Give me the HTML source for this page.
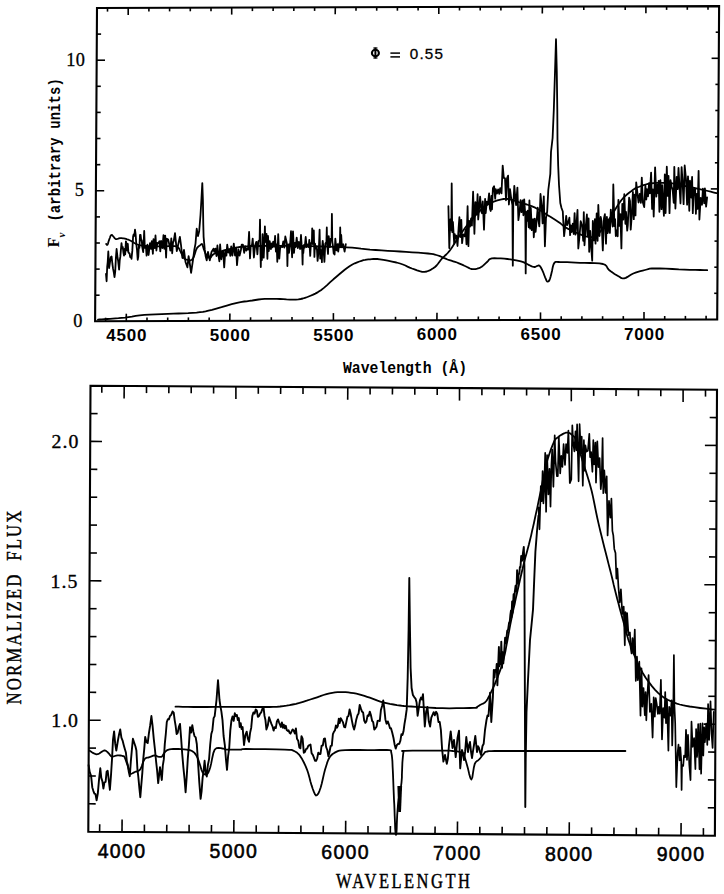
<!DOCTYPE html>
<html><head><meta charset="utf-8"><style>
html,body{margin:0;padding:0;background:#fff;overflow:hidden;width:724px;height:894px;}
svg{display:block;}
</style></head><body>
<svg width="724" height="894" viewBox="0 0 724 894">
<rect width="724" height="894" fill="#fff"/>
<path d="M97.0 8.0 L719.1 6.1 L717.2 319.4 L95.1 321.3 Z" fill="none" stroke="#000" stroke-width="2.1" stroke-linejoin="miter"/>
<path d="M90.5 385.7 L717.0 389.7 L714.9 835.7 L88.3 831.7 Z" fill="none" stroke="#000" stroke-width="2.1" stroke-linejoin="miter"/>
<line x1="105.6" y1="321.3" x2="105.6" y2="317.7" stroke="#000" stroke-width="1.6"/>
<line x1="107.5" y1="8.0" x2="107.5" y2="11.6" stroke="#000" stroke-width="1.6"/>
<line x1="126.3" y1="321.2" x2="126.3" y2="313.7" stroke="#000" stroke-width="1.6"/>
<line x1="128.2" y1="7.9" x2="128.2" y2="14.9" stroke="#000" stroke-width="1.6"/>
<line x1="147.0" y1="321.1" x2="147.0" y2="317.5" stroke="#000" stroke-width="1.6"/>
<line x1="148.9" y1="7.8" x2="148.9" y2="11.4" stroke="#000" stroke-width="1.6"/>
<line x1="167.7" y1="321.1" x2="167.7" y2="317.5" stroke="#000" stroke-width="1.6"/>
<line x1="169.6" y1="7.8" x2="169.6" y2="11.4" stroke="#000" stroke-width="1.6"/>
<line x1="188.4" y1="321.0" x2="188.4" y2="317.4" stroke="#000" stroke-width="1.6"/>
<line x1="190.3" y1="7.7" x2="190.3" y2="11.3" stroke="#000" stroke-width="1.6"/>
<line x1="209.1" y1="321.0" x2="209.2" y2="317.4" stroke="#000" stroke-width="1.6"/>
<line x1="211.0" y1="7.7" x2="211.0" y2="11.3" stroke="#000" stroke-width="1.6"/>
<line x1="229.8" y1="320.9" x2="229.9" y2="313.4" stroke="#000" stroke-width="1.6"/>
<line x1="231.7" y1="7.6" x2="231.7" y2="14.6" stroke="#000" stroke-width="1.6"/>
<line x1="250.5" y1="320.8" x2="250.6" y2="317.2" stroke="#000" stroke-width="1.6"/>
<line x1="252.4" y1="7.5" x2="252.4" y2="11.1" stroke="#000" stroke-width="1.6"/>
<line x1="271.3" y1="320.8" x2="271.3" y2="317.2" stroke="#000" stroke-width="1.6"/>
<line x1="273.2" y1="7.5" x2="273.1" y2="11.1" stroke="#000" stroke-width="1.6"/>
<line x1="292.0" y1="320.7" x2="292.0" y2="317.1" stroke="#000" stroke-width="1.6"/>
<line x1="293.9" y1="7.4" x2="293.8" y2="11.0" stroke="#000" stroke-width="1.6"/>
<line x1="312.7" y1="320.6" x2="312.7" y2="317.0" stroke="#000" stroke-width="1.6"/>
<line x1="314.6" y1="7.3" x2="314.6" y2="10.9" stroke="#000" stroke-width="1.6"/>
<line x1="333.4" y1="320.6" x2="333.4" y2="313.1" stroke="#000" stroke-width="1.6"/>
<line x1="335.3" y1="7.3" x2="335.2" y2="14.3" stroke="#000" stroke-width="1.6"/>
<line x1="354.1" y1="320.5" x2="354.1" y2="316.9" stroke="#000" stroke-width="1.6"/>
<line x1="356.0" y1="7.2" x2="356.0" y2="10.8" stroke="#000" stroke-width="1.6"/>
<line x1="374.8" y1="320.4" x2="374.8" y2="316.8" stroke="#000" stroke-width="1.6"/>
<line x1="376.7" y1="7.1" x2="376.7" y2="10.7" stroke="#000" stroke-width="1.6"/>
<line x1="395.5" y1="320.4" x2="395.5" y2="316.8" stroke="#000" stroke-width="1.6"/>
<line x1="397.4" y1="7.1" x2="397.4" y2="10.7" stroke="#000" stroke-width="1.6"/>
<line x1="416.2" y1="320.3" x2="416.2" y2="316.7" stroke="#000" stroke-width="1.6"/>
<line x1="418.1" y1="7.0" x2="418.1" y2="10.6" stroke="#000" stroke-width="1.6"/>
<line x1="436.9" y1="320.3" x2="437.0" y2="312.8" stroke="#000" stroke-width="1.6"/>
<line x1="438.8" y1="7.0" x2="438.8" y2="14.0" stroke="#000" stroke-width="1.6"/>
<line x1="457.6" y1="320.2" x2="457.6" y2="316.6" stroke="#000" stroke-width="1.6"/>
<line x1="459.5" y1="6.9" x2="459.5" y2="10.5" stroke="#000" stroke-width="1.6"/>
<line x1="478.3" y1="320.1" x2="478.4" y2="316.5" stroke="#000" stroke-width="1.6"/>
<line x1="480.2" y1="6.8" x2="480.2" y2="10.4" stroke="#000" stroke-width="1.6"/>
<line x1="499.0" y1="320.1" x2="499.1" y2="316.5" stroke="#000" stroke-width="1.6"/>
<line x1="500.9" y1="6.8" x2="500.9" y2="10.4" stroke="#000" stroke-width="1.6"/>
<line x1="519.8" y1="320.0" x2="519.8" y2="316.4" stroke="#000" stroke-width="1.6"/>
<line x1="521.7" y1="6.7" x2="521.6" y2="10.3" stroke="#000" stroke-width="1.6"/>
<line x1="540.5" y1="319.9" x2="540.5" y2="312.4" stroke="#000" stroke-width="1.6"/>
<line x1="542.4" y1="6.6" x2="542.3" y2="13.6" stroke="#000" stroke-width="1.6"/>
<line x1="561.2" y1="319.9" x2="561.2" y2="316.3" stroke="#000" stroke-width="1.6"/>
<line x1="563.1" y1="6.6" x2="563.0" y2="10.2" stroke="#000" stroke-width="1.6"/>
<line x1="581.9" y1="319.8" x2="581.9" y2="316.2" stroke="#000" stroke-width="1.6"/>
<line x1="583.8" y1="6.5" x2="583.8" y2="10.1" stroke="#000" stroke-width="1.6"/>
<line x1="602.6" y1="319.8" x2="602.6" y2="316.2" stroke="#000" stroke-width="1.6"/>
<line x1="604.5" y1="6.5" x2="604.5" y2="10.1" stroke="#000" stroke-width="1.6"/>
<line x1="623.3" y1="319.7" x2="623.3" y2="316.1" stroke="#000" stroke-width="1.6"/>
<line x1="625.2" y1="6.4" x2="625.2" y2="10.0" stroke="#000" stroke-width="1.6"/>
<line x1="644.0" y1="319.6" x2="644.0" y2="312.1" stroke="#000" stroke-width="1.6"/>
<line x1="645.9" y1="6.3" x2="645.9" y2="13.3" stroke="#000" stroke-width="1.6"/>
<line x1="664.7" y1="319.6" x2="664.7" y2="316.0" stroke="#000" stroke-width="1.6"/>
<line x1="666.6" y1="6.3" x2="666.6" y2="9.9" stroke="#000" stroke-width="1.6"/>
<line x1="685.4" y1="319.5" x2="685.4" y2="315.9" stroke="#000" stroke-width="1.6"/>
<line x1="687.3" y1="6.2" x2="687.3" y2="9.8" stroke="#000" stroke-width="1.6"/>
<line x1="706.1" y1="319.4" x2="706.1" y2="315.8" stroke="#000" stroke-width="1.6"/>
<line x1="708.0" y1="6.1" x2="708.0" y2="9.7" stroke="#000" stroke-width="1.6"/>
<line x1="95.3" y1="295.2" x2="99.6" y2="295.2" stroke="#000" stroke-width="1.6"/>
<line x1="717.4" y1="293.3" x2="714.2" y2="293.3" stroke="#000" stroke-width="1.6"/>
<line x1="95.4" y1="269.1" x2="99.7" y2="269.1" stroke="#000" stroke-width="1.6"/>
<line x1="717.5" y1="267.2" x2="714.3" y2="267.2" stroke="#000" stroke-width="1.6"/>
<line x1="95.6" y1="243.0" x2="99.9" y2="243.0" stroke="#000" stroke-width="1.6"/>
<line x1="717.7" y1="241.1" x2="714.5" y2="241.1" stroke="#000" stroke-width="1.6"/>
<line x1="95.7" y1="216.9" x2="100.0" y2="216.9" stroke="#000" stroke-width="1.6"/>
<line x1="717.8" y1="215.0" x2="714.6" y2="215.0" stroke="#000" stroke-width="1.6"/>
<line x1="95.9" y1="190.8" x2="104.2" y2="190.7" stroke="#000" stroke-width="1.6"/>
<line x1="718.0" y1="188.9" x2="710.8" y2="188.9" stroke="#000" stroke-width="1.6"/>
<line x1="96.0" y1="164.7" x2="100.3" y2="164.6" stroke="#000" stroke-width="1.6"/>
<line x1="718.1" y1="162.8" x2="714.9" y2="162.8" stroke="#000" stroke-width="1.6"/>
<line x1="96.2" y1="138.5" x2="100.5" y2="138.5" stroke="#000" stroke-width="1.6"/>
<line x1="718.3" y1="136.6" x2="715.1" y2="136.7" stroke="#000" stroke-width="1.6"/>
<line x1="96.4" y1="112.4" x2="100.7" y2="112.4" stroke="#000" stroke-width="1.6"/>
<line x1="718.5" y1="110.5" x2="715.3" y2="110.5" stroke="#000" stroke-width="1.6"/>
<line x1="96.5" y1="86.3" x2="100.8" y2="86.3" stroke="#000" stroke-width="1.6"/>
<line x1="718.6" y1="84.4" x2="715.4" y2="84.4" stroke="#000" stroke-width="1.6"/>
<line x1="96.7" y1="60.2" x2="105.0" y2="60.2" stroke="#000" stroke-width="1.6"/>
<line x1="718.8" y1="58.3" x2="711.6" y2="58.3" stroke="#000" stroke-width="1.6"/>
<line x1="96.8" y1="34.1" x2="101.1" y2="34.1" stroke="#000" stroke-width="1.6"/>
<line x1="718.9" y1="32.2" x2="715.7" y2="32.2" stroke="#000" stroke-width="1.6"/>
<line x1="99.6" y1="831.8" x2="99.7" y2="824.3" stroke="#000" stroke-width="1.6"/>
<line x1="101.8" y1="385.8" x2="101.8" y2="392.8" stroke="#000" stroke-width="1.6"/>
<line x1="122.0" y1="831.9" x2="122.1" y2="819.4" stroke="#000" stroke-width="1.6"/>
<line x1="124.2" y1="385.9" x2="124.1" y2="398.4" stroke="#000" stroke-width="1.6"/>
<line x1="144.4" y1="832.1" x2="144.4" y2="824.6" stroke="#000" stroke-width="1.6"/>
<line x1="146.5" y1="386.1" x2="146.5" y2="393.1" stroke="#000" stroke-width="1.6"/>
<line x1="166.7" y1="832.2" x2="166.8" y2="824.7" stroke="#000" stroke-width="1.6"/>
<line x1="168.9" y1="386.2" x2="168.8" y2="393.2" stroke="#000" stroke-width="1.6"/>
<line x1="189.1" y1="832.3" x2="189.1" y2="824.8" stroke="#000" stroke-width="1.6"/>
<line x1="191.2" y1="386.3" x2="191.2" y2="393.3" stroke="#000" stroke-width="1.6"/>
<line x1="211.4" y1="832.5" x2="211.5" y2="825.0" stroke="#000" stroke-width="1.6"/>
<line x1="213.6" y1="386.5" x2="213.6" y2="393.5" stroke="#000" stroke-width="1.6"/>
<line x1="233.8" y1="832.6" x2="233.9" y2="820.1" stroke="#000" stroke-width="1.6"/>
<line x1="235.9" y1="386.6" x2="235.9" y2="399.1" stroke="#000" stroke-width="1.6"/>
<line x1="256.2" y1="832.8" x2="256.2" y2="825.3" stroke="#000" stroke-width="1.6"/>
<line x1="258.3" y1="386.8" x2="258.3" y2="393.8" stroke="#000" stroke-width="1.6"/>
<line x1="278.5" y1="832.9" x2="278.6" y2="825.4" stroke="#000" stroke-width="1.6"/>
<line x1="280.7" y1="386.9" x2="280.6" y2="393.9" stroke="#000" stroke-width="1.6"/>
<line x1="300.9" y1="833.1" x2="300.9" y2="825.6" stroke="#000" stroke-width="1.6"/>
<line x1="303.0" y1="387.1" x2="303.0" y2="394.1" stroke="#000" stroke-width="1.6"/>
<line x1="323.2" y1="833.2" x2="323.3" y2="825.7" stroke="#000" stroke-width="1.6"/>
<line x1="325.4" y1="387.2" x2="325.4" y2="394.2" stroke="#000" stroke-width="1.6"/>
<line x1="345.6" y1="833.3" x2="345.7" y2="820.8" stroke="#000" stroke-width="1.6"/>
<line x1="347.8" y1="387.3" x2="347.7" y2="399.8" stroke="#000" stroke-width="1.6"/>
<line x1="368.0" y1="833.5" x2="368.0" y2="826.0" stroke="#000" stroke-width="1.6"/>
<line x1="370.1" y1="387.5" x2="370.1" y2="394.5" stroke="#000" stroke-width="1.6"/>
<line x1="390.3" y1="833.6" x2="390.4" y2="826.1" stroke="#000" stroke-width="1.6"/>
<line x1="392.5" y1="387.6" x2="392.4" y2="394.6" stroke="#000" stroke-width="1.6"/>
<line x1="412.7" y1="833.8" x2="412.7" y2="826.3" stroke="#000" stroke-width="1.6"/>
<line x1="414.8" y1="387.8" x2="414.8" y2="394.8" stroke="#000" stroke-width="1.6"/>
<line x1="435.0" y1="833.9" x2="435.1" y2="826.4" stroke="#000" stroke-width="1.6"/>
<line x1="437.2" y1="387.9" x2="437.2" y2="394.9" stroke="#000" stroke-width="1.6"/>
<line x1="457.4" y1="834.1" x2="457.5" y2="821.6" stroke="#000" stroke-width="1.6"/>
<line x1="459.5" y1="388.1" x2="459.5" y2="400.6" stroke="#000" stroke-width="1.6"/>
<line x1="479.8" y1="834.2" x2="479.8" y2="826.7" stroke="#000" stroke-width="1.6"/>
<line x1="481.9" y1="388.2" x2="481.9" y2="395.2" stroke="#000" stroke-width="1.6"/>
<line x1="502.1" y1="834.3" x2="502.2" y2="826.8" stroke="#000" stroke-width="1.6"/>
<line x1="504.3" y1="388.3" x2="504.2" y2="395.3" stroke="#000" stroke-width="1.6"/>
<line x1="524.5" y1="834.5" x2="524.5" y2="827.0" stroke="#000" stroke-width="1.6"/>
<line x1="526.6" y1="388.5" x2="526.6" y2="395.5" stroke="#000" stroke-width="1.6"/>
<line x1="546.8" y1="834.6" x2="546.9" y2="827.1" stroke="#000" stroke-width="1.6"/>
<line x1="549.0" y1="388.6" x2="549.0" y2="395.6" stroke="#000" stroke-width="1.6"/>
<line x1="569.2" y1="834.8" x2="569.3" y2="822.3" stroke="#000" stroke-width="1.6"/>
<line x1="571.3" y1="388.8" x2="571.3" y2="401.3" stroke="#000" stroke-width="1.6"/>
<line x1="591.6" y1="834.9" x2="591.6" y2="827.4" stroke="#000" stroke-width="1.6"/>
<line x1="593.7" y1="388.9" x2="593.7" y2="395.9" stroke="#000" stroke-width="1.6"/>
<line x1="613.9" y1="835.1" x2="614.0" y2="827.6" stroke="#000" stroke-width="1.6"/>
<line x1="616.1" y1="389.1" x2="616.0" y2="396.1" stroke="#000" stroke-width="1.6"/>
<line x1="636.3" y1="835.2" x2="636.3" y2="827.7" stroke="#000" stroke-width="1.6"/>
<line x1="638.4" y1="389.2" x2="638.4" y2="396.2" stroke="#000" stroke-width="1.6"/>
<line x1="658.6" y1="835.3" x2="658.7" y2="827.8" stroke="#000" stroke-width="1.6"/>
<line x1="660.8" y1="389.3" x2="660.8" y2="396.3" stroke="#000" stroke-width="1.6"/>
<line x1="681.0" y1="835.5" x2="681.1" y2="823.0" stroke="#000" stroke-width="1.6"/>
<line x1="683.1" y1="389.5" x2="683.1" y2="402.0" stroke="#000" stroke-width="1.6"/>
<line x1="703.4" y1="835.6" x2="703.4" y2="828.1" stroke="#000" stroke-width="1.6"/>
<line x1="705.5" y1="389.6" x2="705.5" y2="396.6" stroke="#000" stroke-width="1.6"/>
<line x1="88.5" y1="803.8" x2="95.7" y2="803.9" stroke="#000" stroke-width="1.6"/>
<line x1="715.0" y1="807.8" x2="707.8" y2="807.8" stroke="#000" stroke-width="1.6"/>
<line x1="88.6" y1="776.0" x2="95.8" y2="776.0" stroke="#000" stroke-width="1.6"/>
<line x1="715.1" y1="780.0" x2="707.9" y2="779.9" stroke="#000" stroke-width="1.6"/>
<line x1="88.8" y1="748.1" x2="96.0" y2="748.1" stroke="#000" stroke-width="1.6"/>
<line x1="715.3" y1="752.1" x2="708.1" y2="752.0" stroke="#000" stroke-width="1.6"/>
<line x1="88.9" y1="720.2" x2="100.7" y2="720.3" stroke="#000" stroke-width="1.6"/>
<line x1="715.4" y1="724.2" x2="703.6" y2="724.1" stroke="#000" stroke-width="1.6"/>
<line x1="89.0" y1="692.3" x2="96.2" y2="692.4" stroke="#000" stroke-width="1.6"/>
<line x1="715.5" y1="696.3" x2="708.3" y2="696.3" stroke="#000" stroke-width="1.6"/>
<line x1="89.2" y1="664.5" x2="96.4" y2="664.5" stroke="#000" stroke-width="1.6"/>
<line x1="715.7" y1="668.5" x2="708.5" y2="668.4" stroke="#000" stroke-width="1.6"/>
<line x1="89.3" y1="636.6" x2="96.5" y2="636.6" stroke="#000" stroke-width="1.6"/>
<line x1="715.8" y1="640.6" x2="708.6" y2="640.5" stroke="#000" stroke-width="1.6"/>
<line x1="89.4" y1="608.7" x2="96.6" y2="608.7" stroke="#000" stroke-width="1.6"/>
<line x1="715.9" y1="612.7" x2="708.7" y2="612.7" stroke="#000" stroke-width="1.6"/>
<line x1="89.6" y1="580.8" x2="101.4" y2="580.9" stroke="#000" stroke-width="1.6"/>
<line x1="716.1" y1="584.8" x2="704.3" y2="584.7" stroke="#000" stroke-width="1.6"/>
<line x1="89.7" y1="553.0" x2="96.9" y2="553.0" stroke="#000" stroke-width="1.6"/>
<line x1="716.2" y1="557.0" x2="709.0" y2="556.9" stroke="#000" stroke-width="1.6"/>
<line x1="89.8" y1="525.1" x2="97.0" y2="525.1" stroke="#000" stroke-width="1.6"/>
<line x1="716.3" y1="529.1" x2="709.1" y2="529.0" stroke="#000" stroke-width="1.6"/>
<line x1="90.0" y1="497.2" x2="97.2" y2="497.2" stroke="#000" stroke-width="1.6"/>
<line x1="716.5" y1="501.2" x2="709.3" y2="501.2" stroke="#000" stroke-width="1.6"/>
<line x1="90.1" y1="469.3" x2="97.3" y2="469.4" stroke="#000" stroke-width="1.6"/>
<line x1="716.6" y1="473.3" x2="709.4" y2="473.3" stroke="#000" stroke-width="1.6"/>
<line x1="90.2" y1="441.4" x2="102.0" y2="441.5" stroke="#000" stroke-width="1.6"/>
<line x1="716.7" y1="445.4" x2="704.9" y2="445.4" stroke="#000" stroke-width="1.6"/>
<line x1="90.4" y1="413.6" x2="97.6" y2="413.6" stroke="#000" stroke-width="1.6"/>
<line x1="716.9" y1="417.6" x2="709.7" y2="417.5" stroke="#000" stroke-width="1.6"/>
<path d="M106.2 244.0 L106.4 244.2 L106.6 244.5 L106.9 244.8 L107.2 244.9 L107.5 244.7 L107.8 244.1 L108.1 243.2 L108.4 242.1 L108.7 241.0 L109.1 239.9 L109.5 238.8 L110.0 237.5 L110.4 236.2 L111.0 235.3 L111.6 234.9 L112.3 235.2 L113.1 236.2 L114.0 237.3 L114.8 238.4 L115.7 239.1 L116.5 239.2 L117.3 239.0 L118.2 238.7 L119.0 238.4 L119.9 238.2 L120.8 238.2 L121.8 238.2 L122.8 238.3 L123.8 238.4 L124.9 238.6 L126.0 238.9 L127.2 239.3 L128.5 239.7 L129.6 240.2 L130.7 240.7 L131.6 241.2 L132.4 241.7 L133.2 242.2 L133.9 242.7 L134.8 243.2 L135.7 243.6 L136.6 244.1 L137.5 244.5 L138.6 244.9 L140.0 245.2 L141.6 245.5 L143.4 245.7 L145.4 245.9 L147.6 246.1 L150.0 246.2 L152.8 246.3 L156.1 246.3 L159.5 246.3 L162.6 246.3 L165.0 246.3 L166.6 246.3 L167.6 246.2 L168.3 246.1 L169.0 246.1 L170.0 246.1 L171.4 246.1 L173.0 246.1 L174.7 246.1 L176.2 246.3 L177.5 246.8 L178.5 247.7 L179.3 248.9 L179.9 250.3 L180.6 251.7 L181.2 253.0 L181.9 254.2 L182.5 255.5 L183.1 256.7 L183.7 257.8 L184.3 258.6 L184.9 259.1 L185.5 259.4 L186.2 259.6 L186.8 259.7 L187.4 259.8 L188.0 260.0 L188.6 260.3 L189.3 260.5 L189.9 260.5 L190.5 260.4 L191.1 260.1 L191.7 259.7 L192.4 259.1 L193.0 258.3 L193.6 257.3 L194.2 255.8 L194.8 254.0 L195.4 252.0 L196.0 250.1 L196.7 248.6 L197.4 247.5 L198.3 246.6 L199.1 245.9 L199.9 245.4 L200.5 244.9 L201.0 244.5 L201.4 244.2 L201.7 244.0 L202.0 244.1 L202.3 244.3 L202.6 244.8 L202.8 245.6 L203.0 246.6 L203.3 247.6 L203.6 248.6 L204.0 249.7 L204.4 250.8 L204.9 252.0 L205.4 253.2 L206.0 254.2 L206.7 255.2 L207.4 256.2 L208.2 257.0 L209.0 257.7 L209.8 257.9 L210.5 257.6 L211.1 256.9 L211.7 256.0 L212.5 255.0 L213.5 254.2 L214.7 253.5 L216.1 252.9 L217.7 252.3 L219.6 251.7 L222.0 251.0 L225.0 250.2 L228.4 249.3 L232.2 248.4 L236.1 247.6 L240.0 247.0 L243.6 246.6 L246.9 246.3 L250.5 246.2 L254.7 246.1 L260.0 246.0 L266.6 245.9 L274.3 245.9 L282.6 245.9 L291.3 245.9 L300.0 246.0 L309.2 246.2 L319.0 246.4 L328.9 246.6 L338.1 247.0 L346.0 247.3 L352.1 247.7 L356.9 248.2 L361.0 248.7 L365.2 249.1 L370.0 249.6 L375.6 250.0 L381.7 250.4 L387.9 250.8 L394.0 251.1 L400.0 251.5 L406.0 251.9 L412.2 252.3 L418.2 252.7 L423.6 253.1 L428.0 253.5 L431.2 253.9 L433.3 254.2 L434.9 254.6 L436.3 255.0 L438.0 255.5 L439.9 256.2 L441.8 257.0 L443.7 257.9 L445.6 258.7 L447.5 259.5 L449.4 260.1 L451.3 260.7 L453.2 261.3 L455.1 261.9 L457.0 262.5 L458.9 263.3 L460.8 264.1 L462.6 264.9 L464.4 265.8 L466.0 266.5 L467.5 267.2 L468.8 267.9 L470.0 268.5 L471.2 269.0 L472.6 269.2 L474.1 269.2 L475.6 269.1 L477.2 268.7 L478.8 268.2 L480.3 267.6 L481.7 266.7 L483.1 265.6 L484.5 264.3 L485.8 263.1 L487.0 262.0 L487.9 261.1 L488.6 260.2 L489.3 259.4 L490.3 258.8 L491.9 258.4 L494.4 258.2 L497.4 258.3 L500.8 258.4 L504.3 258.7 L507.4 259.0 L510.4 259.4 L513.3 259.8 L516.2 260.4 L518.7 260.9 L520.9 261.4 L522.6 261.9 L523.9 262.4 L524.9 262.9 L525.8 263.4 L526.7 263.8 L527.5 264.2 L528.1 264.5 L528.7 264.9 L529.3 265.2 L530.0 265.5 L530.8 265.9 L531.8 266.3 L532.7 266.6 L533.7 266.9 L534.6 267.0 L535.5 266.8 L536.5 266.3 L537.4 265.8 L538.3 265.5 L539.1 265.5 L539.8 266.0 L540.4 266.7 L541.0 267.7 L541.6 268.8 L542.2 270.0 L542.8 271.4 L543.5 273.0 L544.1 274.7 L544.7 276.3 L545.2 277.6 L545.7 278.7 L546.1 279.7 L546.4 280.5 L546.8 281.1 L547.2 281.5 L547.6 281.6 L548.1 281.6 L548.6 281.3 L549.1 280.7 L549.5 280.0 L549.9 279.0 L550.3 277.7 L550.7 276.3 L551.1 274.7 L551.5 273.0 L552.0 271.0 L552.4 268.8 L552.9 266.5 L553.5 264.5 L554.3 263.0 L555.1 262.2 L555.9 261.9 L556.8 261.9 L558.3 262.0 L560.4 262.1 L563.4 262.1 L567.1 262.2 L571.3 262.4 L575.6 262.6 L580.0 262.8 L584.7 262.9 L589.8 263.0 L594.9 263.2 L599.4 263.4 L603.0 264.0 L605.2 264.9 L606.5 266.1 L607.2 267.4 L607.9 268.7 L609.0 270.0 L610.7 271.3 L612.5 272.6 L614.5 273.9 L616.3 275.0 L618.0 276.0 L619.4 276.8 L620.5 277.6 L621.6 278.1 L622.8 278.4 L624.2 278.4 L625.8 277.9 L627.5 276.9 L629.3 275.7 L631.3 274.5 L633.3 273.5 L635.5 272.7 L637.9 271.9 L640.3 271.2 L642.7 270.6 L645.0 270.0 L646.8 269.5 L648.2 269.1 L649.7 268.7 L651.9 268.5 L655.1 268.4 L659.9 268.5 L665.8 268.7 L672.4 269.0 L678.8 269.4 L684.6 269.6 L689.9 269.8 L695.2 269.9 L700.1 270.0 L704.2 270.1 L707.2 270.2" fill="none" stroke="#000" stroke-width="1.80" stroke-linejoin="round" stroke-linecap="round"/>
<path d="M98.0 319.6 L99.6 319.5 L101.8 319.4 L104.4 319.2 L107.2 319.0 L110.0 318.8 L112.7 318.6 L115.6 318.4 L118.5 318.2 L121.7 317.9 L125.0 317.6 L128.4 317.1 L131.9 316.6 L135.7 315.9 L139.7 315.4 L144.3 314.9 L149.6 314.6 L155.5 314.3 L161.7 314.1 L167.8 313.9 L173.4 313.7 L178.5 313.5 L183.5 313.3 L188.2 313.2 L192.6 312.9 L196.6 312.6 L200.0 312.2 L202.9 311.8 L205.6 311.3 L208.5 310.6 L212.0 309.8 L216.4 308.6 L221.5 307.2 L226.8 305.6 L231.7 304.2 L236.0 303.1 L239.3 302.4 L242.0 301.9 L244.3 301.5 L246.7 301.3 L249.3 300.9 L252.3 300.5 L255.4 300.0 L258.5 299.5 L261.7 299.2 L264.8 298.9 L267.8 298.8 L270.9 298.8 L273.9 298.8 L276.9 298.9 L280.0 299.0 L283.2 299.1 L286.5 299.4 L289.8 299.6 L292.9 299.7 L295.8 299.6 L298.4 299.4 L300.7 299.0 L302.8 298.5 L305.0 297.8 L307.4 297.0 L309.9 296.0 L312.6 294.9 L315.3 293.6 L318.0 292.1 L320.9 290.2 L323.9 287.9 L327.1 285.1 L330.2 282.2 L333.4 279.3 L336.4 276.7 L339.3 274.3 L342.0 272.0 L344.7 269.7 L347.4 267.7 L349.9 266.0 L352.4 264.5 L354.8 263.3 L357.2 262.3 L359.4 261.5 L361.5 260.8 L363.4 260.2 L365.1 259.9 L366.6 259.6 L368.3 259.4 L370.0 259.3 L371.7 259.1 L373.4 259.0 L375.2 258.9 L377.3 259.0 L380.0 259.3 L383.5 259.9 L387.7 260.6 L392.1 261.6 L396.4 262.5 L400.0 263.5 L402.9 264.5 L405.4 265.5 L407.5 266.6 L409.7 267.6 L412.0 268.5 L414.5 269.4 L417.1 270.4 L419.6 271.2 L422.1 271.8 L424.5 271.9 L426.8 271.5 L429.0 270.7 L431.1 269.6 L433.2 268.3 L435.0 267.0 L436.6 265.5 L438.0 263.8 L439.3 262.0 L440.6 260.2 L442.0 258.5 L443.4 257.1 L444.8 255.8 L446.3 254.5 L447.7 253.0 L449.3 251.2 L450.9 249.0 L452.6 246.4 L454.3 243.7 L456.1 240.8 L458.0 238.0 L460.0 235.1 L462.0 232.2 L464.1 229.2 L466.3 226.2 L468.7 223.2 L471.3 220.2 L474.0 217.0 L476.9 213.9 L479.6 211.1 L482.2 208.7 L484.5 206.8 L486.7 205.3 L488.8 204.0 L490.9 203.0 L493.0 202.0 L495.2 201.1 L497.4 200.4 L499.5 199.8 L501.6 199.3 L503.5 199.0 L505.2 198.8 L506.7 198.8 L508.1 199.0 L509.5 199.2 L511.2 199.6 L513.2 200.2 L515.3 200.9 L517.6 201.7 L519.7 202.5 L521.6 203.2 L523.1 203.6 L524.4 204.0 L525.6 204.2 L526.9 204.5 L528.3 205.0 L529.9 205.6 L531.6 206.2 L533.3 206.9 L535.2 207.7 L537.1 208.7 L539.2 209.8 L541.3 211.1 L543.6 212.5 L545.9 214.0 L548.1 215.4 L550.4 216.8 L552.7 218.3 L555.1 219.8 L557.3 221.2 L559.2 222.5 L560.7 223.6 L561.9 224.6 L563.1 225.6 L564.3 226.5 L565.8 227.5 L567.7 228.6 L569.9 229.7 L572.3 230.9 L574.6 232.0 L576.9 233.0 L579.2 234.0 L581.5 234.9 L583.8 235.7 L586.0 236.4 L587.9 236.9 L589.6 237.2 L591.1 237.2 L592.5 237.2 L593.8 236.9 L595.0 236.5 L596.1 236.0 L597.0 235.4 L597.8 234.6 L598.8 233.5 L600.0 232.0 L601.5 230.1 L603.1 227.9 L605.0 225.4 L606.9 222.6 L609.0 219.5 L611.3 215.9 L613.8 211.8 L616.4 207.5 L619.0 203.4 L621.5 200.0 L624.0 197.2 L626.6 194.8 L629.1 192.7 L631.5 191.0 L633.5 189.5 L635.1 188.4 L636.3 187.8 L637.4 187.3 L638.5 187.0 L640.0 186.5 L641.7 185.9 L643.6 185.2 L645.6 184.5 L647.9 183.9 L650.6 183.5 L653.7 183.2 L657.3 182.9 L661.1 182.8 L665.0 182.8 L668.7 183.0 L672.3 183.4 L675.9 184.1 L679.6 184.8 L683.2 185.6 L686.8 186.4 L690.5 187.2 L694.4 188.0 L698.2 188.8 L701.8 189.6 L705.0 190.3 L707.9 191.0 L710.7 191.7 L713.1 192.3 L715.1 192.8 L716.6 193.2" fill="none" stroke="#000" stroke-width="1.80" stroke-linejoin="round" stroke-linecap="round"/>
<path d="M106.0 274.0 L106.6 281.3 L107.2 266.7 L107.7 262.1 L108.3 251.5 L109.1 268.0 L110.0 262.0 L110.8 257.2 L111.6 256.5 L112.4 264.0 L113.1 268.9 L113.8 272.4 L114.5 277.2 L115.2 271.8 L115.9 257.7 L116.6 249.0 L117.4 256.3 L118.2 261.4 L119.1 269.7 L119.7 260.6 L120.3 256.9 L120.9 249.8 L121.5 243.2 L122.1 248.3 L122.8 247.1 L123.4 252.5 L124.0 255.6 L124.6 248.9 L125.2 254.4 L125.9 241.3 L126.5 243.2 L127.1 250.7 L127.8 243.8 L128.4 252.4 L129.0 253.1 L129.6 253.5 L130.2 257.0 L130.9 256.5 L131.5 258.9 L132.3 250.9 L133.1 236.6 L133.7 234.3 L134.3 235.8 L135.0 229.7 L135.6 234.1 L136.3 244.0 L137.0 249.8 L137.7 259.8 L138.3 256.5 L138.9 244.8 L139.4 247.9 L140.0 234.9 L140.6 234.9 L141.2 240.4 L141.7 240.2 L142.3 247.3 L143.2 252.1 L144.2 230.9 L144.8 247.8 L145.9 246.1 L146.6 255.6 L147.4 244.7 L148.6 255.0 L150.0 243.1 L151.0 248.9 L151.8 241.2 L152.9 253.8 L153.5 239.1 L154.7 248.1 L155.5 235.5 L156.4 250.5 L157.3 243.0 L158.3 243.4 L159.4 241.2 L160.3 251.4 L161.1 240.9 L162.4 248.0 L163.5 235.2 L164.3 248.8 L165.2 235.6 L166.1 257.5 L166.8 238.7 L168.2 239.6 L169.5 245.5 L170.3 250.6 L171.3 238.4 L172.2 253.3 L173.0 242.7 L173.7 241.2 L175.0 233.1 L176.8 251.1 L179.9 236.8 L181.0 245.0 L182.4 258.0 L184.0 250.0 L185.5 262.0 L187.4 267.3 L188.6 256.1 L190.0 265.0 L191.1 272.9 L193.0 259.8 L194.3 250.0 L195.5 243.6 L196.7 228.7 L198.0 236.0 L199.2 231.2 L200.5 215.0 L201.5 198.0 L202.3 183.1 L202.9 200.0 L203.3 225.0 L203.6 236.8 L204.8 249.9 L205.6 256.0 L206.7 260.4 L208.0 252.0 L209.8 260.4 L211.5 252.0 L213.5 248.6 L214.2 251.9 L215.4 248.6 L216.5 256.0 L217.4 245.5 L218.4 255.1 L219.4 261.3 L220.1 244.5 L221.3 259.3 L222.4 251.7 L223.1 250.6 L224.2 267.4 L225.3 250.2 L226.4 255.7 L227.2 244.7 L228.4 252.5 L229.6 250.1 L230.3 255.9 L231.2 246.4 L232.4 255.7 L233.8 243.6 L235.0 255.5 L236.1 247.7 L237.0 265.2 L238.4 249.4 L239.6 255.6 L240.9 250.0 L241.7 244.7 L242.9 244.7 L244.2 252.8 L245.1 246.2 L246.4 250.7 L247.3 248.4 L248.1 249.5 L249.1 231.9 L250.0 258.4 L250.7 246.4 L252.0 244.9 L252.7 238.6 L253.9 257.5 L255.1 245.6 L256.3 241.8 L257.4 254.3 L258.3 241.3 L259.6 240.0 L260.0 219.6 L260.4 250.0 L260.8 267.0 L261.2 246.0 L261.9 260.1 L262.6 234.1 L263.7 257.7 L264.5 240.0 L264.9 226.4 L265.3 242.0 L266.5 233.8 L267.4 258.8 L268.0 236.0 L268.8 251.1 L269.7 241.1 L270.9 249.0 L271.8 243.5 L272.5 247.4 L273.2 241.6 L274.4 246.7 L275.1 235.9 L275.9 251.5 L276.7 244.3 L277.3 261.8 L278.2 234.1 L279.3 258.7 L280.1 248.3 L281.1 246.4 L282.3 247.0 L283.3 241.3 L284.3 247.7 L285.3 236.5 L286.7 242.7 L287.1 250.0 L287.4 266.0 L287.8 248.0 L288.3 244.5 L289.0 252.8 L290.2 243.2 L291.0 231.2 L292.1 257.3 L293.0 231.4 L294.0 252.9 L294.9 242.9 L295.7 247.0 L296.7 237.7 L297.8 248.1 L298.8 241.8 L300.1 249.0 L301.0 235.0 L301.8 248.0 L302.2 250.0 L302.6 264.5 L302.9 248.0 L303.3 253.2 L304.0 245.0 L304.7 247.7 L305.7 237.0 L306.6 247.2 L307.3 244.4 L308.7 247.1 L309.3 239.9 L310.2 255.9 L310.9 243.6 L311.9 242.0 L312.2 228.3 L312.6 244.0 L313.8 230.5 L314.4 256.9 L315.0 243.7 L315.7 248.6 L316.8 246.5 L317.6 260.9 L318.9 248.0 L319.6 229.7 L320.2 258.6 L321.6 250.0 L321.9 262.2 L322.3 246.0 L322.7 240.8 L323.4 247.4 L324.4 261.9 L325.3 243.8 L326.4 242.0 L326.8 227.4 L327.1 244.0 L328.0 254.0 L328.7 236.1 L329.9 247.1 L330.6 238.8 L331.6 240.0 L331.9 213.8 L332.3 242.0 L332.8 244.8 L333.7 253.4 L334.6 254.5 L335.3 238.7 L336.5 250.4 L337.6 244.1 L338.2 251.6 L339.2 244.3 L339.9 242.0 L340.2 227.4 L340.6 246.0 L341.2 235.0 L341.9 247.0 L343.2 244.3 L344.6 251.6 L345.8 244.1" fill="none" stroke="#000" stroke-width="1.80" stroke-linejoin="round" stroke-linecap="round"/>
<path d="M448.4 206.2 L449.3 248.1 L450.3 219.3 L451.3 230.0 L451.7 183.5 L452.2 232.0 L452.9 221.9 L454.2 243.7 L454.8 234.1 L455.4 238.6 L456.3 235.6 L457.5 246.0 L458.6 228.1 L459.4 217.2 L460.5 237.0 L461.3 219.9 L462.1 243.1 L463.0 235.2 L463.7 234.4 L464.7 236.3 L465.7 229.4 L466.5 244.3 L467.6 206.2 L468.4 246.1 L469.1 221.0 L470.0 226.6 L471.1 218.4 L471.9 225.6 L473.1 191.7 L474.4 233.8 L475.4 202.1 L476.7 214.4 L477.6 194.2 L478.2 219.5 L479.2 207.6 L480.1 196.7 L481.4 211.6 L482.0 213.2 L482.8 201.5 L484.0 229.6 L485.1 198.8 L485.7 213.2 L486.8 201.6 L488.0 203.7 L489.1 193.3 L489.9 208.7 L490.7 211.0 L491.4 195.9 L492.0 209.3 L492.9 188.3 L494.1 186.2 L495.2 198.8 L495.8 189.2 L497.0 193.5 L498.1 189.4 L499.2 193.8 L500.2 188.2 L501.5 193.4 L502.7 165.6 L503.8 177.9 L505.0 178.4 L506.0 200.3 L507.0 178.3 L508.1 175.7 L508.9 204.5 L510.0 189.2 L511.1 197.5 L512.4 205.0 L512.8 265.7 L513.3 205.0 L514.3 185.9 L515.4 198.1 L516.1 205.1 L517.4 187.6 L518.4 220.2 L519.7 210.3 L520.6 200.1 L521.5 212.1 L522.7 200.3 L523.4 215.3 L524.2 199.3 L525.3 215.0 L525.7 273.4 L526.2 212.0 L527.0 220.9 L527.6 210.7 L528.7 227.3 L529.4 200.4 L530.2 228.6 L530.8 207.8 L531.8 230.2 L533.1 219.2 L533.8 237.3 L534.8 218.7 L535.6 231.8 L536.6 221.2 L537.7 207.7 L538.4 219.1 L539.3 226.4 L540.5 194.0 L541.7 206.6 L542.6 223.4 L543.8 196.3 L544.9 246.3 L546.0 218.0 L547.2 211.5 L548.3 190.0 L550.3 174.0 L551.0 152.0 L552.6 138.0 L553.8 110.0 L555.0 72.0 L556.0 39.2 L556.8 72.0 L557.3 110.0 L557.5 140.0 L558.2 166.0 L559.0 185.0 L560.3 203.0 L561.5 208.0 L562.8 211.5 L563.1 217.9 L564.1 236.1 L565.0 228.3 L566.2 215.9 L567.1 225.2 L568.4 221.6 L569.4 217.7 L570.1 235.2 L570.8 225.5 L571.6 232.0 L572.8 223.6 L573.7 234.0 L574.6 213.1 L575.5 234.7 L576.6 222.4 L577.5 210.0 L578.3 248.5 L579.5 236.4 L580.7 221.2 L582.1 225.9 L583.2 240.8 L583.8 212.1 L584.5 245.3 L585.6 227.8 L586.9 214.5 L587.5 235.3 L588.6 218.5 L589.2 251.8 L590.2 231.0 L590.9 242.7 L592.2 260.7 L592.8 221.0 L594.0 240.4 L594.9 219.1 L595.5 243.6 L596.7 213.3 L597.6 240.8 L598.3 205.0 L599.5 236.0 L600.7 217.0 L601.6 221.3 L602.8 250.4 L604.0 218.2 L604.9 214.2 L606.0 243.6 L606.9 216.9 L607.8 233.0 L608.7 219.7 L609.9 233.0 L610.8 209.7 L611.6 217.3 L612.7 226.6 L613.3 184.4 L614.4 226.0 L615.1 219.2 L615.8 236.0 L616.7 230.4 L617.7 236.3 L618.4 199.8 L619.5 225.9 L620.4 214.1 L621.4 248.4 L622.3 203.8 L623.3 219.7 L624.3 194.2 L625.4 223.8 L626.0 211.9 L627.2 230.6 L627.8 225.4 L629.1 197.7 L630.0 201.0 L630.7 229.7 L631.7 216.6 L632.9 192.0 L633.8 219.2 L634.4 194.6 L635.5 215.4 L636.2 182.3 L637.2 191.1 L638.5 202.5 L639.7 193.9 L640.8 202.9 L641.8 177.6 L642.8 202.2 L644.2 207.1 L645.4 185.4 L646.3 199.5 L646.9 189.2 L648.0 196.4 L649.1 183.1 L649.9 193.4 L651.1 172.6 L652.1 208.9 L652.9 189.5 L653.7 216.5 L655.1 167.4 L656.3 196.6 L657.2 185.0 L657.8 193.0 L658.7 181.0 L659.4 211.8 L660.4 180.2 L661.5 209.1 L662.2 185.1 L662.9 200.4 L663.9 215.8 L664.8 174.4 L665.6 213.1 L666.8 166.7 L667.7 195.9 L668.5 175.8 L669.5 213.2 L670.5 180.2 L671.7 186.7 L672.7 190.5 L673.7 202.8 L674.3 166.8 L675.4 208.5 L676.7 176.9 L677.7 189.1 L678.5 168.0 L679.7 190.3 L680.5 203.4 L681.6 167.1 L682.7 184.3 L683.6 204.1 L684.7 165.5 L686.0 179.3 L687.1 204.7 L688.0 176.4 L689.3 210.8 L690.0 180.7 L691.3 197.6 L692.1 176.8 L692.8 213.2 L693.7 189.2 L694.4 195.1 L695.1 189.0 L695.9 213.8 L696.7 194.0 L697.6 208.8 L698.6 170.8 L699.4 219.5 L700.7 197.8 L702.0 204.8 L702.9 188.6 L704.2 203.4 L704.9 188.3 L706.1 206.6 L707.1 197.5" fill="none" stroke="#000" stroke-width="1.80" stroke-linejoin="round" stroke-linecap="round"/>
<path d="M175.5 706.7 L178.6 706.7 L182.8 706.8 L187.9 706.9 L193.7 707.0 L200.0 707.0 L207.3 707.0 L215.7 706.9 L224.6 706.9 L232.9 706.8 L240.0 706.8 L245.6 706.8 L250.3 706.9 L254.4 707.0 L258.1 707.0 L262.0 707.0 L265.9 707.0 L269.6 707.0 L273.1 706.9 L276.6 706.8 L280.0 706.5 L283.3 706.1 L286.5 705.7 L289.6 705.2 L292.7 704.5 L296.0 703.8 L299.5 702.9 L303.1 701.8 L306.7 700.7 L310.3 699.5 L313.8 698.4 L317.1 697.3 L320.3 696.2 L323.5 695.0 L326.5 694.1 L329.5 693.3 L332.3 692.8 L335.0 692.4 L337.6 692.2 L340.3 692.1 L342.9 692.1 L345.6 692.2 L348.3 692.4 L351.0 692.8 L353.7 693.2 L356.4 693.7 L359.1 694.3 L361.8 695.1 L364.4 695.9 L367.1 696.8 L369.8 697.7 L372.4 698.6 L375.0 699.6 L377.6 700.7 L380.3 701.6 L383.2 702.5 L386.4 703.2 L389.9 703.9 L393.5 704.5 L396.9 705.1 L400.0 705.5 L402.3 705.8 L404.0 706.0 L405.6 706.1 L407.8 706.3 L411.3 706.5 L416.3 706.8 L422.4 707.2 L429.1 707.6 L436.0 708.0 L442.6 708.2 L449.3 708.3 L456.5 708.2 L463.5 708.1 L469.6 708.0 L474.0 707.9 L476.3 707.8 L477.0 707.7 L476.7 707.6 L476.3 707.5 L476.5 707.2 L477.3 706.8 L478.1 706.3 L479.0 705.7 L480.0 705.1 L481.0 704.5 L482.0 704.0 L483.0 703.6 L484.1 703.0 L485.2 702.2 L486.3 701.0 L487.5 699.2 L488.8 696.8 L490.0 694.3 L491.3 691.7 L492.4 689.3 L493.4 687.2 L494.3 685.3 L495.1 683.3 L495.9 681.3 L496.8 679.2 L497.7 676.9 L498.6 674.4 L499.6 671.9 L500.5 669.4 L501.3 666.9 L502.1 664.5 L502.7 662.2 L503.4 659.9 L504.0 657.4 L504.7 654.6 L505.4 651.4 L506.0 647.9 L506.7 644.2 L507.4 640.5 L508.0 637.0 L508.6 633.9 L509.1 631.2 L509.6 628.3 L510.2 625.1 L511.0 621.0 L512.1 615.9 L513.3 609.9 L514.7 603.5 L516.1 597.1 L517.5 591.0 L518.8 585.2 L520.1 579.4 L521.4 573.7 L522.7 568.2 L524.0 563.0 L525.2 558.1 L526.5 553.4 L527.7 548.9 L528.9 544.5 L530.0 540.0 L531.1 535.6 L532.0 531.4 L533.0 527.1 L534.0 522.7 L535.0 518.0 L536.1 512.9 L537.3 507.6 L538.4 502.1 L539.6 496.5 L540.8 491.0 L541.9 485.4 L543.0 479.5 L544.2 473.7 L545.3 468.2 L546.6 463.0 L548.0 458.1 L549.6 453.3 L551.1 448.9 L552.6 445.1 L553.9 442.0 L554.9 440.0 L555.8 438.8 L556.6 438.1 L557.4 437.7 L558.3 437.0 L559.4 436.1 L560.6 435.3 L561.8 434.6 L563.0 433.9 L564.1 433.4 L565.1 433.0 L566.0 432.7 L566.8 432.6 L567.6 432.6 L568.5 432.7 L569.4 433.0 L570.3 433.6 L571.2 434.2 L572.0 434.9 L572.8 435.6 L573.5 436.2 L574.0 436.6 L574.6 437.2 L575.1 438.1 L575.8 439.5 L576.6 441.5 L577.4 444.0 L578.2 446.8 L579.1 449.8 L580.1 453.0 L581.2 456.3 L582.3 459.9 L583.5 463.6 L584.7 467.4 L585.9 471.3 L587.1 475.1 L588.3 478.9 L589.5 482.9 L590.6 487.0 L591.8 491.5 L592.9 496.4 L594.0 501.8 L595.1 507.3 L596.2 512.8 L597.3 518.0 L598.4 522.9 L599.5 527.6 L600.6 532.3 L601.8 537.0 L603.0 542.0 L604.3 547.3 L605.8 552.9 L607.2 558.5 L608.6 564.1 L610.0 569.5 L611.3 574.6 L612.5 579.5 L613.6 584.4 L614.8 589.2 L616.0 594.0 L617.2 598.8 L618.5 603.5 L619.7 608.2 L621.0 613.0 L622.4 618.0 L623.8 623.1 L625.2 628.3 L626.6 633.7 L628.2 639.1 L630.1 644.5 L632.2 650.2 L634.6 656.0 L637.1 661.9 L639.8 667.5 L642.6 672.7 L645.5 677.5 L648.7 681.9 L651.9 686.1 L655.1 689.8 L658.3 693.1 L661.4 695.8 L664.5 697.9 L667.7 699.7 L670.8 701.1 L673.9 702.5 L676.9 703.7 L679.7 704.5 L682.6 705.2 L685.9 705.8 L689.6 706.5 L694.4 707.2 L700.1 708.0 L706.0 708.7 L711.1 709.3 L714.6 709.7" fill="none" stroke="#000" stroke-width="1.80" stroke-linejoin="round" stroke-linecap="round"/>
<path d="M89.5 750.5 L90.1 751.0 L90.9 751.6 L91.9 752.3 L92.9 752.9 L94.0 753.4 L95.2 753.9 L96.4 754.3 L97.8 754.2 L99.3 753.5 L101.0 752.3 L102.6 751.2 L104.0 750.5 L105.1 750.5 L106.0 750.9 L106.9 751.6 L107.7 752.3 L108.5 753.2 L109.4 754.2 L110.1 755.2 L110.8 756.0 L111.3 756.4 L111.6 756.6 L112.0 756.6 L112.6 756.6 L113.6 756.4 L114.8 756.0 L116.2 755.6 L117.5 755.4 L118.8 755.4 L120.2 755.5 L121.4 755.7 L122.5 756.0 L123.3 756.1 L123.8 756.2 L124.3 756.7 L124.9 757.8 L125.8 760.1 L126.8 763.2 L127.8 766.3 L128.6 768.9 L129.1 770.7 L129.5 772.2 L129.9 773.2 L130.5 773.8 L131.4 773.8 L132.5 773.3 L133.7 772.6 L134.8 772.0 L135.8 771.7 L136.8 771.5 L137.7 771.2 L138.5 770.8 L139.2 770.4 L139.8 769.9 L140.3 769.2 L141.0 768.0 L141.8 766.0 L142.6 763.5 L143.6 761.0 L144.6 759.1 L145.7 758.1 L147.0 757.7 L148.2 757.5 L149.5 757.2 L150.8 756.7 L152.1 756.1 L153.3 755.6 L154.5 755.4 L155.5 755.5 L156.4 755.9 L157.3 756.3 L158.2 756.6 L159.1 756.8 L160.1 756.9 L161.0 756.9 L161.8 756.6 L162.5 755.9 L163.0 754.9 L163.6 753.9 L164.3 752.9 L165.1 752.0 L165.8 751.2 L166.8 750.4 L168.0 749.8 L169.5 749.4 L171.3 749.2 L173.3 749.0 L175.5 749.0 L178.1 749.0 L181.2 749.1 L184.1 749.3 L186.7 749.6 L188.7 750.0 L190.5 750.4 L192.0 751.0 L193.4 751.9 L194.7 753.1 L195.8 754.6 L196.8 756.4 L197.9 758.6 L199.0 761.7 L200.2 765.6 L201.3 769.3 L202.4 772.0 L203.5 773.6 L204.7 774.4 L205.8 774.6 L206.8 774.3 L207.7 773.5 L208.5 772.2 L209.3 770.2 L210.2 767.5 L211.2 763.4 L212.2 758.2 L213.3 753.2 L214.7 749.6 L216.5 748.1 L218.6 747.9 L220.7 748.2 L222.5 748.5 L223.6 748.6 L224.4 749.0 L225.3 749.4 L227.0 749.6 L229.9 749.7 L233.6 749.7 L237.4 749.7 L240.4 749.6 L241.6 749.5 L241.6 749.3 L242.4 749.1 L246.0 749.0 L254.1 749.1 L265.2 749.2 L276.4 749.4 L284.8 749.6 L289.2 749.8 L291.3 749.9 L292.3 750.2 L293.7 750.8 L295.5 751.7 L297.2 752.8 L298.8 754.3 L300.4 756.4 L302.1 759.1 L303.9 762.5 L305.6 766.1 L307.1 769.8 L308.4 773.7 L309.5 777.8 L310.5 781.8 L311.6 785.4 L312.7 788.7 L313.9 791.9 L315.0 794.4 L316.1 795.5 L317.2 795.0 L318.4 793.4 L319.5 790.8 L320.6 787.7 L321.7 783.8 L322.8 779.0 L323.9 774.1 L325.0 769.8 L326.1 766.2 L327.1 762.9 L328.2 760.0 L329.5 757.5 L331.0 755.5 L332.6 754.0 L334.3 752.9 L336.2 751.9 L337.8 751.1 L339.3 750.6 L341.5 750.3 L345.2 750.1 L351.4 750.0 L359.4 750.0 L367.5 750.1 L374.3 750.1 L379.4 750.0 L383.6 750.0 L386.9 749.9 L389.4 750.1 L390.8 750.4 L391.2 750.8 L391.1 751.4 L391.2 752.3 L391.5 753.6 L391.8 755.1 L392.0 756.9 L392.2 759.0 L392.4 761.2 L392.5 763.7 L392.6 766.5 L392.8 770.0 L393.0 774.4 L393.2 779.4 L393.4 784.8 L393.6 790.0 L393.8 794.9 L394.0 799.8 L394.3 804.8 L394.5 810.0 L394.7 816.0 L395.0 822.6 L395.2 828.6 L395.5 832.7 L395.8 834.6 L396.0 834.8 L396.3 833.9 L396.5 832.0 L396.7 828.8 L396.8 824.4 L397.0 819.5 L397.2 815.0 L397.5 811.0 L397.8 807.1 L398.1 803.4 L398.5 800.0 L399.0 797.1 L399.5 794.7 L400.0 792.4 L400.5 790.0 L400.9 787.5 L401.2 785.0 L401.5 782.5 L401.7 780.0 L401.9 777.5 L401.9 775.0 L402.0 772.5 L402.1 770.0 L402.2 767.4 L402.3 764.9 L402.4 762.3 L402.6 760.0 L402.8 757.7 L403.0 755.6 L403.2 753.6 L403.5 752.2 L403.0 751.4 L402.0 751.0 L402.1 750.9 L405.0 750.8 L412.5 750.7 L423.2 750.6 L434.3 750.6 L442.6 750.6 L447.2 750.6 L449.7 750.7 L451.3 750.8 L453.0 751.0 L455.1 751.2 L456.9 751.4 L458.6 751.7 L460.0 752.0 L461.1 752.2 L462.0 752.4 L462.7 752.8 L463.5 754.0 L464.4 756.0 L465.2 758.7 L466.1 761.8 L467.0 765.0 L468.1 769.1 L469.2 773.9 L470.4 777.9 L471.4 779.5 L472.3 777.5 L473.0 772.9 L473.8 767.8 L474.7 764.0 L475.7 762.1 L476.9 761.1 L478.0 760.4 L479.2 759.4 L480.4 758.0 L481.5 756.5 L482.7 755.0 L483.7 753.8 L484.4 753.0 L484.8 752.3 L485.5 751.9 L487.0 751.5 L488.9 751.2 L491.2 751.1 L494.6 751.0 L500.0 751.0 L507.0 751.0 L515.5 751.0 L526.2 751.0 L540.0 751.0 L560.2 751.0 L585.2 751.0 L609.0 751.0 L625.4 751.0" fill="none" stroke="#000" stroke-width="1.80" stroke-linejoin="round" stroke-linecap="round"/>
<path d="M397.4 786 L402.1 786 L401.0 812 L398.2 812 Z" fill="#000"/>
<path d="M88.6 765.2 L89.8 772.4 L91.1 775.9 L92.3 787.4 L93.4 791.1 L94.4 793.6 L95.5 794.1 L96.6 800.3 L97.8 793.6 L99.1 778.9 L100.3 768.3 L101.3 777.9 L102.4 781.4 L103.4 788.6 L104.5 782.3 L105.6 781.9 L106.6 771.8 L107.7 770.8 L108.8 780.4 L109.9 789.8 L111.0 775.3 L112.0 759.2 L113.0 739.6 L114.1 731.4 L115.2 743.7 L116.3 750.5 L118.0 740.0 L119.1 734.1 L120.2 729.5 L121.4 737.7 L122.6 740.6 L123.7 744.9 L124.9 749.2 L125.9 752.5 L126.9 761.8 L127.8 764.7 L128.8 771.8 L129.8 776.3 L130.8 761.9 L131.9 749.3 L132.9 738.8 L134.2 742.7 L135.4 746.2 L136.4 750.5 L137.4 768.8 L138.3 776.6 L139.3 787.4 L140.3 797.2 L141.3 784.9 L142.3 773.2 L143.2 759.6 L144.2 749.4 L145.2 736.9 L146.4 742.0 L147.7 743.1 L148.9 733.3 L150.2 725.2 L151.4 716.0 L152.6 726.2 L153.8 739.1 L155.0 750.0 L156.1 761.5 L157.1 770.4 L158.2 783.1 L160.0 767.1 L161.8 780.0 L162.8 765.7 L163.8 759.4 L164.8 743.9 L165.8 734.0 L166.8 722.0 L167.9 719.2 L168.9 719.4 L170.0 716.0 L171.2 714.9 L172.5 711.5 L173.7 712.7 L174.7 720.3 L175.6 725.7 L176.6 734.0 L177.7 732.9 L178.9 726.8 L180.0 723.9 L181.1 737.9 L182.2 753.8 L183.4 767.6 L184.5 778.3 L185.6 792.2 L186.7 777.0 L187.8 758.7 L188.9 745.1 L190.0 727.3 L191.1 732.5 L192.3 725.2 L193.4 731.7 L194.5 736.1 L195.7 737.3 L196.8 744.0 L198.1 763.7 L199.3 782.4 L200.6 798.9 L201.6 791.3 L202.6 777.9 L203.6 770.9 L204.6 760.8 L205.7 772.6 L206.8 776.5 L207.9 765.0 L209.1 759.1 L210.2 744.5 L211.3 734.0 L212.4 730.2 L213.6 718.1 L214.7 716.1 L216.5 700.0 L218.0 680.3 L219.5 700.0 L220.4 706.2 L221.4 711.6 L222.5 720.1 L223.6 736.0 L224.8 744.8 L225.9 758.7 L227.0 769.8 L228.1 756.1 L229.2 748.2 L230.3 730.6 L231.4 720.6 L232.5 716.5 L233.7 720.9 L234.8 713.3 L235.9 716.1 L236.9 715.0 L237.8 720.0 L238.8 718.0 L239.7 727.0 L240.7 723.2 L241.6 729.1 L242.6 727.0 L244.0 745.0 L245.3 735.4 L246.7 731.7 L247.8 738.4 L249.0 741.8 L250.1 732.7 L251.2 727.9 L252.3 716.1 L253.4 712.5 L254.6 713.7 L255.7 709.4 L256.8 710.4 L257.9 716.9 L259.0 716.1 L260.1 713.7 L261.2 712.4 L262.4 708.7 L263.5 707.1 L264.5 715.9 L265.4 719.7 L266.4 729.5 L267.8 725.5 L269.1 717.2 L270.2 720.5 L271.4 723.9 L272.5 726.3 L273.6 730.6 L274.7 727.2 L275.8 728.1 L276.9 721.5 L278.0 719.4 L279.0 722.3 L279.9 724.5 L280.9 726.9 L281.9 722.5 L282.9 727.8 L283.8 724.7 L284.8 728.4 L285.8 725.8 L286.7 730.0 L287.7 730.9 L288.6 730.3 L289.6 732.8 L290.5 733.7 L291.5 731.7 L292.6 729.4 L293.7 730.7 L294.8 733.5 L295.9 728.4 L297.0 738.8 L298.2 740.7 L299.3 747.4 L300.4 748.3 L301.5 736.2 L302.6 738.6 L303.8 752.7 L304.9 751.9 L306.0 749.1 L307.1 748.7 L308.3 745.8 L309.4 745.2 L310.5 744.5 L311.6 753.2 L312.8 754.9 L313.9 757.6 L315.0 760.8 L316.1 760.9 L317.2 758.3 L318.3 752.7 L319.4 754.1 L320.5 754.0 L321.6 745.6 L322.8 745.6 L323.9 738.9 L325.0 738.5 L326.1 747.0 L327.3 750.0 L328.4 756.4 L329.5 752.0 L330.6 746.2 L331.8 745.7 L332.9 734.2 L334.0 731.7 L335.0 730.2 L335.9 725.5 L336.9 727.7 L337.8 726.0 L338.8 718.6 L339.7 723.0 L340.7 718.3 L341.8 720.1 L342.9 722.1 L344.1 726.8 L345.2 727.3 L346.3 722.1 L347.4 716.7 L348.5 715.9 L349.6 709.4 L350.7 713.8 L351.9 720.6 L353.0 726.0 L354.1 729.5 L355.2 725.3 L356.3 719.4 L357.5 715.2 L358.6 713.4 L359.7 704.9 L360.8 708.4 L361.9 711.4 L363.1 712.4 L364.2 720.5 L365.3 722.8 L366.4 721.4 L367.6 715.4 L368.7 715.9 L369.8 711.6 L370.9 715.0 L372.1 720.8 L373.2 722.2 L374.3 729.5 L375.4 728.3 L376.5 726.7 L377.6 721.0 L378.7 720.6 L379.8 721.0 L380.9 710.1 L382.1 705.9 L383.2 700.4 L384.3 708.7 L385.4 719.4 L386.6 723.7 L387.8 721.4 L389.0 724.8 L390.0 728.2 L391.0 728.2 L392.2 732.5 L393.5 738.0 L394.6 744.4 L395.7 748.6 L396.9 745.0 L398.0 744.0 L399.2 743.9 L400.4 740.7 L401.4 734.3 L402.5 734.9 L403.5 731.3 L404.5 723.8 L405.5 718.0 L406.7 709.4 L407.7 677.0 L408.6 630.0 L409.3 578.0 L409.9 625.0 L410.6 668.0 L411.6 688.0 L412.9 695.0 L414.2 697.1 L415.5 698.6 L416.6 702.5 L417.6 715.8 L418.8 708.1 L420.0 700.0 L421.0 697.6 L422.0 699.5 L423.0 694.3 L424.8 726.5 L426.1 712.1 L427.4 706.9 L428.8 721.3 L430.1 726.5 L431.3 717.6 L432.5 714.9 L433.7 712.2 L434.9 715.3 L436.1 711.8 L437.3 714.0 L438.5 722.1 L439.7 721.9 L440.9 730.1 L442.1 749.1 L443.4 761.6 L445.0 755.0 L446.8 763.8 L447.9 758.5 L449.0 745.0 L450.7 731.4 L452.5 748.0 L454.0 740.0 L455.7 757.1 L457.5 738.0 L459.0 730.8 L460.2 768.3 L462.0 750.0 L463.0 753.2 L464.0 760.0 L465.1 751.9 L466.3 737.0 L468.0 752.0 L469.0 745.3 L470.0 742.0 L471.0 751.5 L472.0 758.0 L473.0 751.2 L474.0 745.0 L475.3 735.9 L477.0 752.0 L478.0 746.1 L479.0 748.0 L480.0 752.0 L481.0 755.0 L482.5 746.0 L483.7 743.7 L485.0 730.0 L486.5 720.0 L487.5 715.5 L488.5 716.0 L490.1 692.6 L491.3 722.0 L492.9 697.0 L493.8 670.0 L494.5 677.6 L495.2 669.9 L496.2 671.6 L496.7 664.0 L497.4 685.2 L498.0 670.2 L498.9 646.9 L499.4 666.4 L500.1 660.9 L500.7 664.2 L501.3 641.6 L502.0 667.7 L502.7 652.3 L503.3 663.4 L504.1 653.2 L505.1 637.7 L505.7 643.4 L506.4 638.6 L507.2 630.8 L508.1 629.6 L509.1 622.7 L509.8 621.4 L510.4 614.7 L511.0 610.5 L511.5 617.2 L512.1 601.5 L512.6 612.8 L513.6 594.3 L514.1 606.2 L514.8 592.2 L515.6 585.7 L516.5 591.7 L517.1 570.2 L518.0 583.5 L518.6 573.9 L519.3 573.8 L519.9 566.9 L520.5 567.1 L521.2 555.9 L522.1 560.7 L523.0 552.6 L523.8 547.0 L524.4 566.0 L524.9 700.0 L525.3 807.0 L525.7 760.0 L526.5 712.0 L528.0 680.0 L530.0 640.0 L531.5 625.0 L533.0 609.6 L534.2 580.0 L535.4 551.7 L537.0 531.3 L538.5 515.7" fill="none" stroke="#000" stroke-width="1.90" stroke-linejoin="round" stroke-linecap="round"/>
<path d="M538.5 507.4 L539.5 529.3 L540.8 486.2 L541.7 501.1 L542.6 471.2 L543.4 503.4 L544.1 491.2 L545.2 452.9 L546.1 511.8 L547.1 455.1 L548.4 494.5 L549.5 468.8 L550.5 506.7 L551.4 465.4 L552.2 449.5 L553.4 486.8 L554.7 435.4 L555.5 461.0 L556.9 476.1 L557.8 476.2 L558.8 436.5 L560.2 473.5 L561.3 455.8 L562.4 467.0 L563.6 444.2 L565.0 464.9 L566.1 444.1 L567.4 452.9 L568.4 430.5 L569.8 483.1 L571.3 479.5 L572.3 425.4 L573.1 442.2 L574.4 451.4 L575.5 431.3 L576.4 450.3 L577.1 424.4 L578.6 481.3 L579.6 424.2 L580.9 453.3 L581.7 436.6 L582.8 485.8 L583.9 440.2 L584.8 470.8 L585.4 445.4 L586.5 451.6 L587.9 450.7 L589.3 433.9 L590.1 457.1 L591.1 452.1 L592.4 471.8 L593.3 440.2 L594.1 464.4 L595.4 442.6 L596.0 482.6 L597.3 441.4 L598.4 467.1 L599.6 458.0 L600.8 489.2 L601.7 478.8 L602.6 438.0 L603.3 493.2 L604.3 470.3 L605.6 492.8 L606.7 476.3 L607.6 535.4 L609.0 500.9 L610.4 517.6 L611.4 498.6 L612.4 530.8 L613.3 535.3 L614.3 548.9 L615.5 552.9 L616.4 578.6 L617.4 568.7 L618.4 586.4 L619.7 602.4 L620.9 589.4 L622.3 614.0 L623.7 606.5 L624.8 645.3 L625.5 612.2 L626.4 632.4 L627.1 613.1 L628.5 635.1 L629.9 632.4 L630.7 647.9 L631.6 653.5 L632.5 638.0 L633.7 654.2 L634.8 629.5 L635.8 681.0 L637.0 656.7 L637.8 680.2 L639.3 661.7 L640.5 715.7 L641.5 668.4 L642.4 706.6 L643.5 688.0 L644.8 715.1 L645.6 692.0 L646.3 720.3 L647.2 698.6 L648.6 675.0 L649.9 711.9 L651.3 703.9 L652.6 737.6 L653.7 697.3 L654.8 716.6 L655.7 698.0 L656.8 704.5 L657.9 713.8 L658.7 706.8 L659.7 713.7 L660.9 679.8 L662.0 739.5 L663.2 708.0 L664.5 717.7 L665.2 692.0 L666.0 723.2 L667.0 700.6 L668.4 750.7 L669.2 706.8 L670.6 715.6 L671.6 700.4 L672.2 745.5 L673.4 700.0 L673.9 655.0 L674.4 705.0 L675.2 723.3 L676.3 787.1 L677.6 753.1 L678.5 744.7 L679.6 760.5 L680.3 747.4 L681.2 760.0 L681.6 790.0 L682.0 765.0 L683.2 765.9 L684.0 755.7 L685.2 757.2 L686.0 729.9 L687.0 759.9 L688.0 734.8 L689.3 764.6 L690.5 780.1 L691.5 721.7 L692.6 746.8 L694.1 738.1 L695.4 769.1 L696.1 729.0 L697.1 756.9 L698.2 724.1 L699.5 769.3 L700.3 723.7 L701.1 773.7 L702.5 723.4 L703.3 755.6 L704.1 727.3 L704.9 742.2 L706.2 723.7 L707.3 745.0 L708.1 704.0 L709.1 739.9 L710.5 701.3 L711.6 733.8 L712.6 748.0 L713.8 711.8" fill="none" stroke="#000" stroke-width="1.70" stroke-linejoin="round" stroke-linecap="round"/>
<text x="85.2" y="66.2" font-family="Liberation Serif" font-size="18.3" font-weight="normal" text-anchor="end" letter-spacing="0.3" stroke="#000" stroke-width="0.3">10</text>
<text x="84.0" y="195.6" font-family="Liberation Serif" font-size="18.3" font-weight="normal" text-anchor="end" stroke="#000" stroke-width="0.3">5</text>
<text x="82.4" y="327.2" font-family="Liberation Serif" font-size="18.3" font-weight="normal" text-anchor="end" stroke="#000" stroke-width="0.3">0</text>
<text x="126.7" y="341.1" font-family="Liberation Sans" font-size="17.0" font-weight="bold" text-anchor="middle" letter-spacing="0.8">4500</text>
<text x="230.2" y="340.8" font-family="Liberation Sans" font-size="17.0" font-weight="bold" text-anchor="middle" letter-spacing="0.8">5000</text>
<text x="333.8" y="340.5" font-family="Liberation Sans" font-size="17.0" font-weight="bold" text-anchor="middle" letter-spacing="0.8">5500</text>
<text x="437.3" y="340.2" font-family="Liberation Sans" font-size="17.0" font-weight="bold" text-anchor="middle" letter-spacing="0.8">6000</text>
<text x="540.9" y="339.8" font-family="Liberation Sans" font-size="17.0" font-weight="bold" text-anchor="middle" letter-spacing="0.8">6500</text>
<text x="644.4" y="339.5" font-family="Liberation Sans" font-size="17.0" font-weight="bold" text-anchor="middle" letter-spacing="0.8">7000</text>
<text transform="translate(405,372.8) scale(0.86,1)" font-family="Liberation Mono" font-size="17.2" font-weight="bold" text-anchor="middle">Wavelength (&#197;)</text>
<ellipse cx="375.4" cy="53.0" rx="3.5" ry="3.3" fill="none" stroke="#000" stroke-width="2.1"/>
<line x1="375.4" y1="47.5" x2="375.4" y2="58.5" stroke="#000" stroke-width="2.0"/>
<line x1="373.3" y1="48.0" x2="377.5" y2="48.0" stroke="#000" stroke-width="1.1"/>
<line x1="373.3" y1="58.0" x2="377.5" y2="58.0" stroke="#000" stroke-width="1.1"/>
<line x1="390.4" y1="53.1" x2="400.0" y2="53.1" stroke="#000" stroke-width="1.5"/>
<line x1="390.4" y1="56.9" x2="400.0" y2="56.9" stroke="#000" stroke-width="1.5"/>
<text x="409.8" y="58.6" font-family="Liberation Sans" font-size="15.2" font-weight="normal" text-anchor="start" letter-spacing="1.2" stroke="#000" stroke-width="0.3">0.55</text>
<text transform="translate(59.4,247.6) rotate(-90)" font-family="Liberation Serif" font-size="16.5" font-weight="bold">F</text>
<text transform="translate(65.2,237.6) rotate(-90)" font-family="Liberation Serif" font-size="11" font-style="italic" font-weight="bold">&#957;</text>
<text transform="translate(59.6,221.6) rotate(-90) scale(0.86,1)" font-family="Liberation Mono" font-size="16.2" font-weight="bold" letter-spacing="0.1">(arbitrary units)</text>
<text x="79.3" y="447.8" font-family="Liberation Serif" font-size="19.8" font-weight="normal" text-anchor="end" letter-spacing="1.0" stroke="#000" stroke-width="0.35">2.0</text>
<text x="78.3" y="587.7" font-family="Liberation Serif" font-size="19.8" font-weight="normal" text-anchor="end" letter-spacing="1.0" stroke="#000" stroke-width="0.35">1.5</text>
<text x="79.0" y="727.4" font-family="Liberation Serif" font-size="19.8" font-weight="normal" text-anchor="end" letter-spacing="1.0" stroke="#000" stroke-width="0.35">1.0</text>
<text x="122.0" y="857.7" font-family="Liberation Sans" font-size="19.5" font-weight="normal" text-anchor="middle" letter-spacing="1.3" stroke="#000" stroke-width="0.55">4000</text>
<text x="233.8" y="858.4" font-family="Liberation Sans" font-size="19.5" font-weight="normal" text-anchor="middle" letter-spacing="1.3" stroke="#000" stroke-width="0.55">5000</text>
<text x="345.6" y="859.1" font-family="Liberation Sans" font-size="19.5" font-weight="normal" text-anchor="middle" letter-spacing="1.3" stroke="#000" stroke-width="0.55">6000</text>
<text x="457.4" y="859.9" font-family="Liberation Sans" font-size="19.5" font-weight="normal" text-anchor="middle" letter-spacing="1.3" stroke="#000" stroke-width="0.55">7000</text>
<text x="569.2" y="860.6" font-family="Liberation Sans" font-size="19.5" font-weight="normal" text-anchor="middle" letter-spacing="1.3" stroke="#000" stroke-width="0.55">8000</text>
<text x="681.0" y="861.3" font-family="Liberation Sans" font-size="19.5" font-weight="normal" text-anchor="middle" letter-spacing="1.3" stroke="#000" stroke-width="0.55">9000</text>
<text transform="translate(404.2,888.3) scale(0.82,1)" font-family="Liberation Serif" font-size="20.1" text-anchor="middle" letter-spacing="3.05" stroke="#000" stroke-width="0.45">WAVELENGTH</text>
<text transform="translate(21.0,606.5) rotate(-90) scale(0.8,1)" font-family="Liberation Serif" font-size="21" text-anchor="middle" letter-spacing="2.6" word-spacing="7" stroke="#000" stroke-width="0.45">NORMALIZED FLUX</text>
</svg>
</body></html>
